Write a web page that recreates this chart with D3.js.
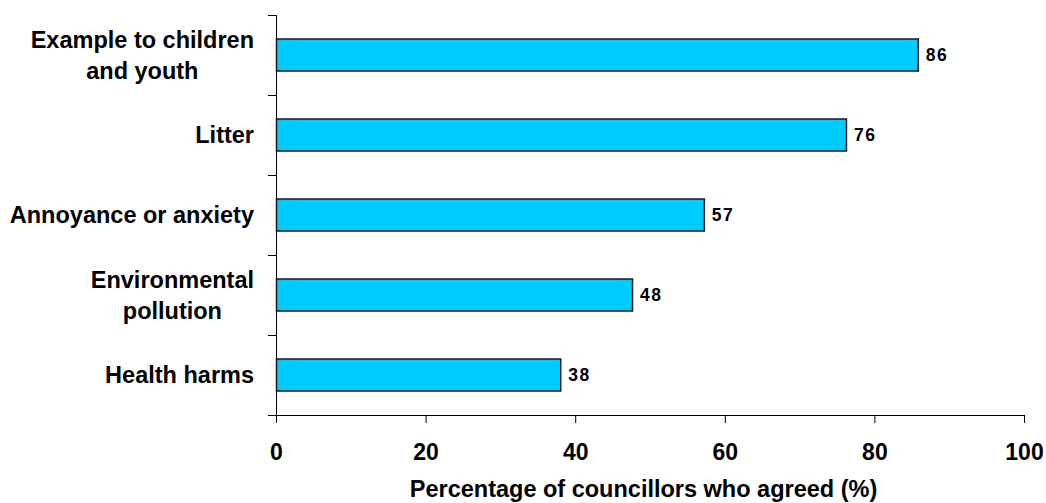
<!DOCTYPE html>
<html>
<head>
<meta charset="utf-8">
<script src="https://cdn.jsdelivr.net/npm/d3@7"></script>
<style>
    body { margin: 0; background: white; }
    svg { display: block; font-family: "Liberation Sans", Arial, sans-serif; }
    .domain, .tick line { stroke: black; stroke-width: 1; }
</style>
</head>
<body>
<svg id="chart"></svg>
<script>
// chart data
let categories = [
    ["Example to children", "and youth"],
    ["Litter"],
    ["Annoyance or anxiety"],
    ["Environmental", "pollution"],
    ["Health harms"]
];
let values = [85.8, 76.2, 57.2, 47.6, 38.0];
let xTicks = [0, 20, 40, 60, 80, 100];
let xTitle = "Percentage of councillors who agreed (%)";

let width = 1046;
let height = 503;
let plotLeft = 276, plotRight = 1024, plotTop = 15, plotBottom = 415;

let svg = d3.select("#chart")
    .attr("width", width)
    .attr("height", height);

let keys = categories.map(c => c.join(" "));

let scaleX = d3.scaleLinear()
    .domain([0, 100])
    .range([plotLeft, plotRight]);

let scaleY = d3.scaleBand()
    .domain(keys)
    .range([plotTop, plotBottom])
    .padding(0);

let barH = scaleY.bandwidth() * 0.4;

// X AXIS
let xAxis = svg.append("g")
    .attr("transform", `translate(0,${plotBottom})`)
    .call(d3.axisBottom(scaleX).tickValues(xTicks).tickSize(8).tickSizeOuter(0).tickPadding(15));

xAxis.select(".domain").attr("d", `M${plotLeft - 8},0.5H${plotRight}`);
xAxis.selectAll("text")
    .attr("fill", "black")
    .style("font-size", "23px")
    .style("font-weight", "bold")
    .attr("dy", "0.95em");

// Y AXIS (ticks between categories)
let boundaries = keys.map(k => scaleY(k));
let yAxis = svg.append("g");
yAxis.append("line")
    .attr("x1", plotLeft + 0.5).attr("x2", plotLeft + 0.5)
    .attr("y1", plotTop).attr("y2", plotBottom)
    .attr("stroke", "black");
yAxis.selectAll(".ytick")
    .data(boundaries)
    .enter()
    .append("line")
    .attr("class", "ytick")
    .attr("x1", plotLeft - 8).attr("x2", plotLeft)
    .attr("y1", d => Math.round(d) + 0.5)
    .attr("y2", d => Math.round(d) + 0.5)
    .attr("stroke", "black");

// BARS
let barGroup = svg.selectAll(".bar-group")
    .data(values)
    .enter()
    .append("g")
    .attr("class", "bar-group");

barGroup.append("rect")
    .attr("x", scaleX(0) + 0.5)
    .attr("y", (d, i) => scaleY(keys[i]) + (scaleY.bandwidth() - barH) / 2)
    .attr("width", d => scaleX(d) - scaleX(0))
    .attr("height", barH)
    .attr("fill", "#00CCFF")
    .attr("stroke", "#1a1a1a")
    .attr("stroke-width", 1.5);

// VALUE LABELS
barGroup.append("text")
    .attr("x", d => scaleX(d) + 8)
    .attr("y", (d, i) => scaleY(keys[i]) + scaleY.bandwidth() / 2)
    .attr("dy", "0.36em")
    .text(d => d3.format(".0f")(d))
    .style("font-size", "17.5px")
    .style("font-weight", "bold")
    .style("letter-spacing", "1.5px")
    .attr("fill", "black");

// CATEGORY LABELS (multi-line, centred on each other, block right aligned)
let lineH = 31;
categories.forEach((lines, i) => {
    let cy = scaleY(keys[i]) + scaleY.bandwidth() / 2;
    let g = svg.append("g");
    let texts = lines.map((line, j) => g.append("text")
        .text(line)
        .attr("y", cy + (j - (lines.length - 1) / 2) * lineH)
        .attr("dy", "0.36em")
        .attr("text-anchor", "middle")
        .style("font-size", "23.5px")
        .style("font-weight", "bold")
        .attr("fill", "black"));
    let maxW = d3.max(texts, t => t.node().getComputedTextLength());
    texts.forEach(t => t.attr("x", 254 - maxW / 2));
});

// X TITLE
svg.append("text")
    .attr("x", 643.5)
    .attr("y", 497)
    .attr("text-anchor", "middle")
    .text(xTitle)
    .style("font-size", "23.5px")
    .style("font-weight", "bold")
    .attr("fill", "black");
</script>
</body>
</html>
